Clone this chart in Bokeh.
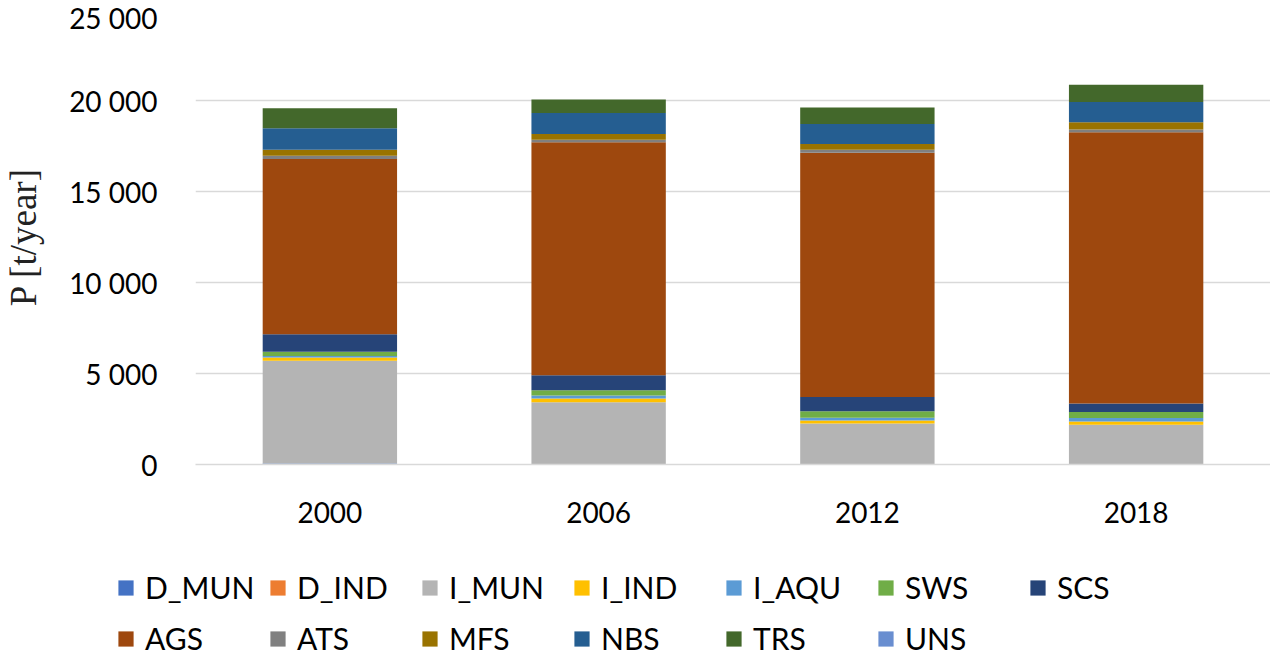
from bokeh.plotting import figure
from bokeh.layouts import column, row
from bokeh.models import (FactorRange, Range1d, FixedTicker, Legend, LegendItem,
                          ColumnDataSource)
from bokeh.embed import file_html
from bokeh.resources import INLINE

years = ["2000", "2006", "2012", "2018"]

D_MUN = [50, 20, 20, 20]
D_IND = [5, 5, 5, 5]
I_MUN = [5640, 3400, 2230, 2160]
I_IND = [180, 195, 165, 180]
I_AQU = [90, 165, 145, 185]
SWS = [230, 295, 365, 330]
SCS = [960, 820, 780, 470]
AGS = [9630, 12810, 13415, 14905]
ATS = [180, 130, 165, 150]
MFS = [330, 325, 325, 400]
NBS = [1185, 1150, 1095, 1110]
TRS = [1090, 740, 905, 945]
UNS = [0, 0, 0, 0]

series_names = ["D_MUN", "D_IND", "I_MUN", "I_IND", "I_AQU", "SWS", "SCS",
                "AGS", "ATS", "MFS", "NBS", "TRS", "UNS"]
series_values = [D_MUN, D_IND, I_MUN, I_IND, I_AQU, SWS, SCS,
                 AGS, ATS, MFS, NBS, TRS, UNS]
colors = ["#4472C4", "#ED7D31", "#B4B4B4", "#FFC000", "#5B9BD5", "#70AD47",
          "#264478", "#9E480E", "#808080", "#997300", "#255E91", "#43682B",
          "#698ED0"]

y_ticks = [0, 5000, 10000, 15000, 20000, 25000]
y_tick_labels = ["0", "5 000", "10 000", "15 000", "20 000", "25 000"]

data = {"year": years}
for n, v in zip(series_names, series_values):
    data[n] = v
src = ColumnDataSource(data)

W = 1259
p = figure(frame_width=1075, frame_height=455, x_range=FactorRange(*years, range_padding=0),
           y_range=Range1d(0, 25000), output_backend="svg", toolbar_location=None,
           min_border_left=184, min_border_right=0, min_border_top=9,
           min_border_bottom=76)
p.outline_line_color = None
p.background_fill_color = "white"

p.vbar_stack(series_names, x="year", width=0.5, source=src,
             fill_color=colors, line_color=None)

# axes
p.yaxis.ticker = FixedTicker(ticks=y_ticks)
p.yaxis.major_label_overrides = {t: l for t, l in zip(y_ticks, y_tick_labels)}
p.yaxis.axis_line_color = None
p.yaxis.major_tick_line_color = None
p.yaxis.minor_tick_line_color = None
p.yaxis.major_label_standoff = 32
p.yaxis.major_label_text_font = "Lato"
p.yaxis.major_label_text_font_size = "28px"
p.yaxis.major_label_text_color = "black"
p.yaxis.axis_label = "P [t/year]"
p.yaxis.axis_label_text_font = "Liberation Serif"
p.yaxis.axis_label_text_font_size = "37px"
p.yaxis.axis_label_text_font_style = "normal"
p.yaxis.axis_label_text_color = "#222222"
p.yaxis.axis_label_standoff = 22

p.xaxis.axis_line_color = "#d9d9d9"
p.xaxis.axis_line_width = 1.5
p.xaxis.major_tick_line_color = None
p.xaxis.minor_tick_line_color = None
p.xaxis.major_label_standoff = 31
p.xaxis.major_label_text_font = "Lato"
p.xaxis.major_label_text_font_size = "28px"
p.xaxis.major_label_text_color = "black"

p.xgrid.grid_line_color = None
p.ygrid.grid_line_color = "#d9d9d9"
p.ygrid.grid_line_width = 1.5

# legend strip: swatches come from the same series renderers (zero-width, out of view)
LH = 116
lf = figure(frame_width=W, frame_height=LH, x_range=FactorRange(*years, range_padding=0),
            y_range=Range1d(-2e6, -1e6), output_backend="svg", toolbar_location=None,
            x_axis_location=None, y_axis_location=None, min_border=0,
            min_border_left=0, min_border_right=0, min_border_top=0, min_border_bottom=0)
lf.grid.visible = False
lf.outline_line_color = None
leg_renderers = lf.vbar_stack(series_names, x="year", width=0.0, source=src,
                              fill_color=colors, line_color=None)

def make_legend(idx, loc):
    items = [LegendItem(label=series_names[i], renderers=[leg_renderers[i]]) for i in idx]
    return Legend(items=items, orientation="horizontal", location=loc,
                  padding=0, margin=0, border_line_color=None,
                  background_fill_alpha=0, glyph_width=19, glyph_height=19,
                  label_standoff=10, label_width=113, spacing=10,
                  label_text_font="Lato", label_text_font_size="30px",
                  label_text_color="black", label_height=30)

lf.add_layout(make_legend(range(0, 7), (116, 51)))
lf.add_layout(make_legend(range(7, 13), (116, 0)))

open("out.html", "w").write(file_html(column(p, row(lf)), INLINE))
